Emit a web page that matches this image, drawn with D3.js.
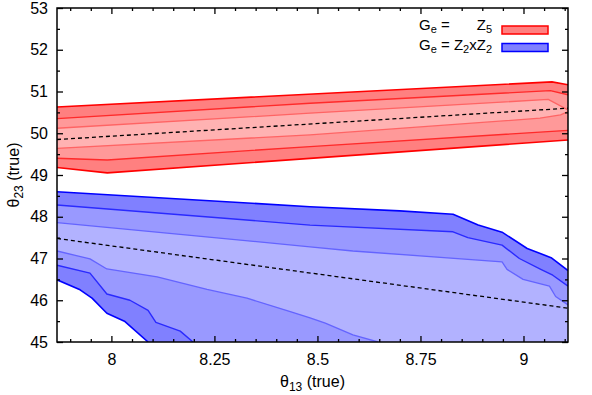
<!DOCTYPE html>
<html>
<head>
<meta charset="utf-8">
<script src="https://cdn.jsdelivr.net/npm/d3@7"></script>
<style>
    body { margin: 0; background: #fff; }
    text { font-family: "Liberation Sans", Arial, sans-serif; }
</style>
</head>
<body>
<script>
// axis ranges and ticks
var xDomain = [7.868, 9.108];
var yDomain = [45, 53];
var xTicks = [8, 8.25, 8.5, 8.75, 9];
var xMinorTicks = [7.9, 7.95, 8.05, 8.1, 8.15, 8.2, 8.3, 8.35, 8.4, 8.45, 8.55, 8.6, 8.65, 8.7, 8.8, 8.85, 8.9, 8.95, 9.05, 9.1];
var yTicks = [45, 46, 47, 48, 49, 50, 51, 52, 53];
var yMinorTicks = [45.5, 46.5, 47.5, 48.5, 49.5, 50.5, 51.5, 52.5];

// Ge = Z5 (red) contours: [theta13, theta23]
var red3Upper = [[7.868, 50.63], [9.069, 51.23], [9.108, 51.16]];
var red3Lower = [[7.868, 49.18], [7.99, 49.05], [9.108, 49.84]];
var red2Upper = [[7.868, 50.35], [8.482, 50.72], [9.065, 51.02], [9.108, 50.92]];
var red2Lower = [[7.868, 49.40], [7.99, 49.36], [8.482, 49.68], [9.108, 50.07]];
var red1Upper = [[7.868, 50.12], [8.482, 50.48], [9.06, 50.81], [9.108, 50.56]];
var red1Lower = [[7.868, 49.64], [8.482, 49.96], [9.04, 50.36], [9.09, 50.44], [9.108, 50.52]];
var redBest = [[7.868, 49.85], [9.108, 50.60]];

// Ge = Z2xZ2 (blue) contours
var blue3Upper = [[7.868, 48.60], [8.482, 48.24], [8.70, 48.14], [8.829, 48.06], [8.89, 47.80],
                  [8.948, 47.63], [9.009, 47.24], [9.067, 47.02], [9.108, 46.71]];
var blue3Lower = [[7.868, 46.49], [7.924, 46.25], [7.953, 46.05], [7.989, 45.69], [8.033, 45.49], [8.089, 45.00]];
var blue2Upper = [[7.868, 48.28], [8.482, 47.80], [8.829, 47.64], [8.865, 47.50], [8.948, 47.32],
                  [8.99, 47.00], [9.042, 46.74], [9.071, 46.60], [9.108, 46.34]];
var blue2Lower = [[7.868, 46.84], [7.948, 46.65], [7.989, 46.15], [8.045, 46.00], [8.089, 45.76],
                  [8.108, 45.47], [8.167, 45.26], [8.198, 45.00]];
var blue1Upper = [[7.868, 47.86], [8.482, 47.28], [8.586, 47.18], [8.948, 46.92], [8.96, 46.74],
                  [8.999, 46.50], [9.063, 46.34], [9.078, 46.09], [9.108, 45.89]];
var blue1Lower = [[7.868, 47.18], [7.948, 46.99], [7.989, 46.75], [8.111, 46.56], [8.232, 46.26],
                  [8.329, 46.05], [8.434, 45.73], [8.482, 45.58], [8.519, 45.45], [8.586, 45.17], [8.647, 45.00]];
var blueBest = [[7.868, 47.48], [9.108, 45.81]];

function init() {
    var w = 592;
    var h = 395;
    var left = 57, right = 568, top = 8, bottom = 342;

    var xScale = d3.scaleLinear().domain(xDomain).range([left, right]);
    var yScale = d3.scaleLinear().domain(yDomain).range([bottom, top]);

    var svg = d3.select("body")
                .append("svg")
                .attr("width", w)
                .attr("height", h);

    svg.append("clipPath")
        .attr("id", "plotclip")
        .append("rect")
        .attr("x", left)
        .attr("y", top)
        .attr("width", right - left)
        .attr("height", bottom - top);

    var plot = svg.append("g").attr("clip-path", "url(#plotclip)");

    var line = d3.line()
        .x(function(d) { return xScale(d[0]); })
        .y(function(d) { return yScale(d[1]); });

    // closed band: upper edge then lower edge backwards
    function band(upper, lower) {
        return upper.concat(lower.slice().reverse());
    }
    // blue bands run into the lower right corner
    function cornerBand(upper, lower) {
        return upper.concat([[xDomain[1], yDomain[0]]], lower.slice().reverse());
    }

    var regions = [
        { pts: band(red3Upper, red3Lower), fill: "rgb(255,128,128)" },
        { pts: band(red2Upper, red2Lower), fill: "rgb(255,153,153)" },
        { pts: band(red1Upper, red1Lower), fill: "rgb(255,178,178)" },
        { pts: cornerBand(blue3Upper, blue3Lower), fill: "rgb(128,128,255)" },
        { pts: cornerBand(blue2Upper, blue2Lower), fill: "rgb(153,153,255)" },
        { pts: cornerBand(blue1Upper, blue1Lower), fill: "rgb(178,178,255)" }
    ];

    plot.selectAll("path.region")
        .data(regions)
        .enter()
        .append("path")
        .attr("class", "region")
        .attr("d", function(d) { return line(d.pts) + "Z"; })
        .attr("fill", function(d) { return d.fill; });

    var edges = [
        { pts: red3Upper, color: "#ff0000", width: 1.6 },
        { pts: red3Lower, color: "#ff0000", width: 1.6 },
        { pts: red2Upper, color: "#ff2a2a", width: 1.4 },
        { pts: red2Lower, color: "#ff2a2a", width: 1.4 },
        { pts: red1Upper, color: "#ff6464", width: 1.3 },
        { pts: red1Lower, color: "#ff6464", width: 1.3 },
        { pts: blue3Upper, color: "#0000ff", width: 1.6 },
        { pts: blue3Lower, color: "#0000ff", width: 1.6 },
        { pts: blue2Upper, color: "#2a2aff", width: 1.4 },
        { pts: blue2Lower, color: "#2a2aff", width: 1.4 },
        { pts: blue1Upper, color: "#6464ff", width: 1.3 },
        { pts: blue1Lower, color: "#6464ff", width: 1.3 }
    ];

    plot.selectAll("path.edge")
        .data(edges)
        .enter()
        .append("path")
        .attr("class", "edge")
        .attr("d", function(d) { return line(d.pts); })
        .attr("fill", "none")
        .attr("stroke", function(d) { return d.color; })
        .attr("stroke-width", function(d) { return d.width; })
        .attr("stroke-linejoin", "round");

    plot.selectAll("path.best")
        .data([redBest, blueBest])
        .enter()
        .append("path")
        .attr("class", "best")
        .attr("d", line)
        .attr("fill", "none")
        .attr("stroke", "#000")
        .attr("stroke-width", 1.3)
        .attr("stroke-dasharray", "4,3");

    // axes, ticks pointing inwards on all four sides
    function styleAxis(g) {
        g.select(".domain").remove();
        g.selectAll("line").attr("stroke", "#000").attr("stroke-width", 1.3);
        g.selectAll("text").attr("font-size", 16).attr("fill", "#000");
    }

    svg.append("g")
        .attr("transform", "translate(0," + bottom + ")")
        .call(d3.axisBottom(xScale).tickValues(xTicks).tickSize(-6).tickPadding(12)
              .tickFormat(function(d) { return d3.format("")(d); }))
        .call(styleAxis);
    svg.append("g")
        .attr("transform", "translate(0," + bottom + ")")
        .call(d3.axisBottom(xScale).tickValues(xMinorTicks).tickSize(-3).tickFormat(""))
        .call(styleAxis);
    svg.append("g")
        .attr("transform", "translate(0," + top + ")")
        .call(d3.axisTop(xScale).tickValues(xTicks).tickSize(-6).tickFormat(""))
        .call(styleAxis);
    svg.append("g")
        .attr("transform", "translate(0," + top + ")")
        .call(d3.axisTop(xScale).tickValues(xMinorTicks).tickSize(-3).tickFormat(""))
        .call(styleAxis);

    svg.append("g")
        .attr("transform", "translate(" + left + ",0)")
        .call(d3.axisLeft(yScale).tickValues(yTicks).tickSize(-6).tickPadding(9))
        .call(styleAxis);
    svg.append("g")
        .attr("transform", "translate(" + left + ",0)")
        .call(d3.axisLeft(yScale).tickValues(yMinorTicks).tickSize(-3).tickFormat(""))
        .call(styleAxis);
    svg.append("g")
        .attr("transform", "translate(" + right + ",0)")
        .call(d3.axisRight(yScale).tickValues(yTicks).tickSize(-6).tickFormat(""))
        .call(styleAxis);
    svg.append("g")
        .attr("transform", "translate(" + right + ",0)")
        .call(d3.axisRight(yScale).tickValues(yMinorTicks).tickSize(-3).tickFormat(""))
        .call(styleAxis);

    svg.append("rect")
        .attr("x", left)
        .attr("y", top)
        .attr("width", right - left)
        .attr("height", bottom - top)
        .attr("fill", "none")
        .attr("stroke", "#000")
        .attr("stroke-width", 1.5);

    // axis titles
    var xt = svg.append("text")
        .attr("x", (left + right) / 2)
        .attr("y", 387)
        .attr("text-anchor", "middle")
        .attr("font-size", 16);
    xt.append("tspan").text("θ");
    xt.append("tspan").attr("font-size", 12).attr("dy", 4).text("13");
    xt.append("tspan").attr("dy", -4).text(" (true)");

    var yt = svg.append("text")
        .attr("transform", "translate(19," + (top + bottom) / 2 + ") rotate(-90)")
        .attr("text-anchor", "middle")
        .attr("font-size", 16);
    yt.append("tspan").text("θ");
    yt.append("tspan").attr("font-size", 12).attr("dy", 4).text("23");
    yt.append("tspan").attr("dy", -4).text(" (true)");

    // legend
    var legend = svg.append("g").attr("font-size", 15);

    var r2 = legend.append("text").attr("x", 492).attr("y", 50).attr("text-anchor", "end");
    r2.append("tspan").text("G");
    r2.append("tspan").attr("font-size", 11).attr("dy", 3).text("e");
    r2.append("tspan").attr("dy", -3).text(" = Z");
    r2.append("tspan").attr("font-size", 11).attr("dy", 3).text("2");
    r2.append("tspan").attr("dy", -3).text("xZ");
    r2.append("tspan").attr("font-size", 11).attr("dy", 3).text("2");

    // first row starts where the second one does
    var rowStart = r2.node().getBBox().x;

    var r1 = legend.append("text").attr("x", rowStart).attr("y", 30);
    r1.append("tspan").text("G");
    r1.append("tspan").attr("font-size", 11).attr("dy", 3).text("e");
    r1.append("tspan").attr("dy", -3).text(" =");

    var r1b = legend.append("text").attr("x", 492).attr("y", 30).attr("text-anchor", "end");
    r1b.append("tspan").text("Z");
    r1b.append("tspan").attr("font-size", 11).attr("dy", 3).text("5");

    legend.selectAll("rect")
        .data([
            { y: 26, fill: "rgb(255,128,128)", stroke: "#ff0000" },
            { y: 43.5, fill: "rgb(128,128,255)", stroke: "#0000ff" }
        ])
        .enter()
        .append("rect")
        .attr("x", 502)
        .attr("y", function(d) { return d.y; })
        .attr("width", 46)
        .attr("height", 8)
        .attr("fill", function(d) { return d.fill; })
        .attr("stroke", function(d) { return d.stroke; })
        .attr("stroke-width", 1.5);
}

window.onload = init;
</script>
</body>
</html>
